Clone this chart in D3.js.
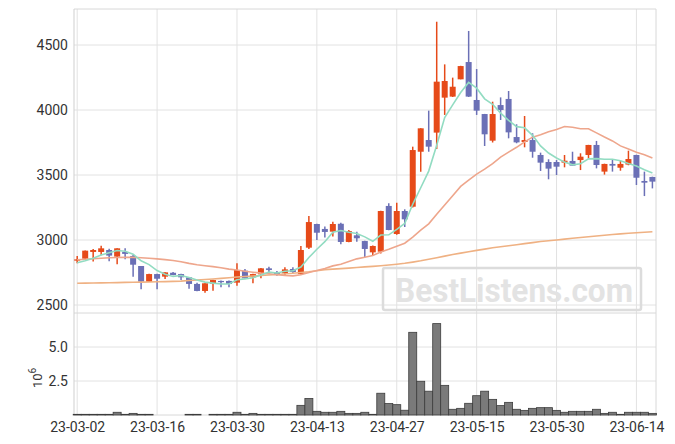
<!DOCTYPE html>
<html><head><meta charset="utf-8">
<script src="https://cdn.jsdelivr.net/npm/d3@7"></script>
<style>body{margin:0;background:#fff;} text{font-family:Roboto,"Noto Sans",sans-serif;}</style>
</head><body><svg id="c" width="675" height="444"></svg>
<script>
const dates = ["23-03-02","23-03-03","23-03-06","23-03-07","23-03-08","23-03-09","23-03-10","23-03-13","23-03-14","23-03-15",
"23-03-16","23-03-17","23-03-20","23-03-21","23-03-22","23-03-23","23-03-24","23-03-27","23-03-28","23-03-29",
"23-03-30","23-03-31","23-04-03","23-04-04","23-04-05","23-04-06","23-04-07","23-04-10","23-04-11","23-04-12",
"23-04-13","23-04-14","23-04-17","23-04-18","23-04-19","23-04-20","23-04-21","23-04-24","23-04-25","23-04-26",
"23-04-27","23-04-28","23-05-02","23-05-03","23-05-04","23-05-08","23-05-09","23-05-10","23-05-11","23-05-12",
"23-05-15","23-05-16","23-05-17","23-05-18","23-05-19","23-05-22","23-05-23","23-05-24","23-05-25","23-05-26",
"23-05-30","23-05-31","23-06-01","23-06-02","23-06-05","23-06-07","23-06-08","23-06-09","23-06-12","23-06-13",
"23-06-14","23-06-15","23-06-16"];
const open  = [2841,2856,2908,2908,2923,2872,2908,2877,2800,2679,2738,2718,2748,2738,2713,2662,2608,2664,2685,2685,
2672,2764,2713,2736,2782,2749,2744,2777,2738,2941,3123,3085,3064,3125,2985,3036,2992,2905,2910,3262,
3046,3223,3256,3679,3769,3826,4095,4103,4236,4369,4077,3969,3764,4038,4085,3792,3754,3769,3654,3600,
3600,3595,3608,3615,3654,3731,3526,3585,3556,3580,3654,3454,3485];
const high  = [2877,2920,2931,2956,2932,2936,2936,2885,2800,2740,2740,2752,2754,2740,2715,2672,2668,2695,2688,2688,
2821,2777,2740,2785,2795,2762,2790,2790,2954,3185,3125,3103,3141,3133,3077,3064,2995,2957,3225,3282,
3287,3236,3718,3860,3995,4679,4351,4249,4340,4608,4315,3970,4064,4097,4146,3890,3954,3821,3672,3621,
3615,3654,3679,3667,3732,3762,3587,3621,3608,3687,3656,3526,3487];
const low   = [2821,2850,2835,2882,2836,2813,2851,2718,2621,2679,2621,2700,2728,2692,2625,2605,2595,2610,2636,2636,
2649,2703,2667,2705,2744,2725,2730,2745,2735,2931,3000,3020,3026,2967,2983,2987,2867,2885,2897,3075,
3040,3100,3250,3525,3679,3700,3962,4100,4236,4100,3962,3723,3750,3923,3782,3744,3713,3633,3531,3467,
3500,3559,3570,3538,3628,3551,3503,3526,3533,3575,3423,3338,3397];
const close = [2851,2918,2923,2936,2880,2936,2893,2810,2680,2738,2702,2751,2731,2713,2662,2608,2667,2692,2678,2662,
2769,2705,2738,2782,2769,2738,2774,2754,2923,3138,3056,3062,3123,2985,3069,3013,2931,2954,3223,3077,
3223,3159,3692,3859,3718,4218,4223,4179,4338,4103,3995,3813,3969,4000,3828,3751,3769,3679,3595,3549,
3564,3610,3572,3641,3731,3577,3585,3572,3585,3623,3479,3441,3449];
const volume = [0.05,0.05,0.05,0.05,0.05,0.2,0.05,0.12,0.05,0.05,0,0,0,0,0.05,0.05,0,0.05,0.05,0.05,
0.2,0.05,0.12,0.05,0.05,0.05,0.05,0.05,0.71,1.22,0.27,0.2,0.2,0.27,0.12,0.12,0.2,0.05,1.6,0.84,
0.76,0.35,6.08,2.48,1.75,6.72,2.18,0.42,0.49,0.86,1.42,1.75,1.15,0.69,0.93,0.42,0.34,0.49,0.54,0.54,
0.34,0.2,0.27,0.27,0.27,0.42,0.12,0.2,0.05,0.2,0.2,0.2,0.12];
const ma5 = [2825,2841,2859,2885,2902,2919,2914,2891,2840,2811,2765,2736,2720,2727,2712,2693,2676,2668,2661,2661,
2694,2701,2710,2731,2753,2746,2760,2763,2792,2865,2929,2987,3060,3073,3059,3050,3024,2990,3038,3040,
3082,3127,3275,3402,3530,3729,3942,4039,4135,4212,4168,4086,4044,3976,3921,3872,3863,3805,3724,3669,
3631,3599,3578,3587,3624,3626,3621,3621,3610,3588,3569,3540,3515];
const ma20 = [2848,2852,2856,2860,2863,2865,2866,2866,2864,2860,2855,2849,2842,2833,2820,2810,2802,2795,2786,2776,
2769,2760,2752,2745,2740,2733,2727,2724,2733,2750,2766,2781,2801,2814,2835,2855,2868,2881,2908,2929,
2952,2975,3022,3076,3124,3198,3270,3341,3412,3460,3507,3545,3587,3638,3676,3713,3755,3791,3809,3833,
3850,3873,3867,3856,3856,3824,3792,3762,3724,3700,3675,3656,3630];
const maLong = [2667,2668,2669,2670,2671,2672,2674,2675,2676,2677,2679,2680,2682,2684,2688,2692,2696,2700,2705,2710,
2715,2719,2723,2727,2731,2735,2739,2744,2750,2756,2764,2772,2776,2780,2784,2789,2793,2797,2802,2808,
2814,2821,2830,2840,2852,2864,2876,2888,2899,2910,2920,2930,2940,2948,2956,2964,2972,2980,2988,2994,
3000,3007,3013,3019,3025,3031,3037,3042,3047,3052,3056,3060,3064];
const tickIdx = [0,10,20,30,40,50,60,70];
const priceTicks = [2500,3000,3500,4000,4500];
const volTicks = [2.5,5.0];

const svg = d3.select('#c');
const L=74, R=656, T=9, MB=313, VB=415;
const x = d3.scaleLinear().domain([-0.4,72.45]).range([L,R]);
const y = d3.scaleLinear().domain([2500,4500]).range([305,45]);
const yv = d3.scaleLinear().domain([0,7.5]).range([VB,MB]);
const gridC = '#e2e2e2';
const UP='#e64a19', DN='#6b70b6';

// grid
const g = svg.append('g');
g.selectAll('.hg').data(priceTicks).enter().append('line')
  .attr('x1',L).attr('x2',R).attr('y1',d=>y(d)).attr('y2',d=>y(d)).attr('stroke',gridC);
g.selectAll('.vg2').data(volTicks).enter().append('line')
  .attr('x1',L).attr('x2',R).attr('y1',d=>yv(d)).attr('y2',d=>yv(d)).attr('stroke',gridC);
g.selectAll('.vg').data(tickIdx).enter().append('line')
  .attr('x1',d=>x(d)).attr('x2',d=>x(d)).attr('y1',T).attr('y2',VB).attr('stroke',gridC);
// borders
[[L,T,R,T],[L,MB,R,MB],[L,VB,R,VB],[R,T,R,VB]].forEach(b=>{
  g.append('line').attr('x1',b[0]).attr('y1',b[1]).attr('x2',b[2]).attr('y2',b[3]).attr('stroke','#d8d8d8');
});
g.append('line').attr('x1',L).attr('y1',T).attr('x2',L).attr('y2',VB).attr('stroke','#cfcfcf');

// volume
svg.append('g').selectAll('rect').data(volume.map((v,i)=>({v,i})).filter(d=>d.v>0)).enter().append('rect')
  .attr('x',d=>x(d.i)-4).attr('width',8)
  .attr('y',d=>yv(d.v)).attr('height',d=>VB-yv(d.v))
  .attr('fill','#7a7a7a').attr('stroke','#3c3c3c').attr('stroke-width',0.8);

// candles
const cd = dates.map((d,i)=>({i,o:open[i],h:high[i],l:low[i],c:close[i]}));
const cg = svg.append('g');
cg.selectAll('line').data(cd).enter().append('line')
  .attr('x1',d=>x(d.i)).attr('x2',d=>x(d.i)).attr('y1',d=>y(d.h)).attr('y2',d=>y(d.l))
  .attr('stroke',d=>d.c>=d.o?UP:DN).attr('stroke-width',1.5);
cg.selectAll('rect').data(cd).enter().append('rect')
  .attr('x',d=>x(d.i)-3).attr('width',6)
  .attr('y',d=>y(Math.max(d.o,d.c)))
  .attr('height',d=>Math.max(1.2,Math.abs(y(d.o)-y(d.c))))
  .attr('fill',d=>d.c>=d.o?UP:DN);

// moving averages
const line = d3.line().x((d,i)=>x(i)).y(d=>y(d));
svg.append('path').datum(maLong).attr('d',line).attr('fill','none').attr('stroke','#efb183').attr('stroke-width',1.6);
svg.append('path').datum(ma20).attr('d',line).attr('fill','none').attr('stroke','#eea68c').attr('stroke-width',1.6);
svg.append('path').datum(ma5).attr('d',line).attr('fill','none').attr('stroke','#92dcc2').attr('stroke-width',1.6);

// axes
const styleAxis = s=>{ s.select('.domain').remove(); s.selectAll('text').attr('fill','#333').style('font-size','14px'); };
svg.append('g').attr('transform',`translate(${L},0)`)
  .call(d3.axisLeft(y).tickValues(priceTicks).tickFormat(d3.format('d')).tickSize(0).tickPadding(6)).call(styleAxis);
svg.append('g').attr('transform',`translate(${L},0)`)
  .call(d3.axisLeft(yv).tickValues(volTicks).tickFormat(d3.format('.1f')).tickSize(0).tickPadding(6)).call(styleAxis);
svg.append('g').attr('transform',`translate(0,${VB})`)
  .call(d3.axisBottom(x).tickValues(tickIdx).tickFormat(i=>dates[i]).tickSize(0).tickPadding(7)).call(styleAxis);

// 10^6 label
const vl = svg.append('text').attr('transform','translate(42,388) rotate(-90)')
  .attr('fill','#333').style('font-size','13px').text('10');
vl.append('tspan').attr('dy',-6).style('font-size','10px').text('6');

// watermark
svg.append('rect').attr('x',383).attr('y',268).attr('width',258).attr('height',42).attr('rx',2)
  .attr('fill','none').attr('stroke','#dcdcdc').attr('stroke-width',2.5);
svg.append('text').attr('x',395).attr('y',302).attr('textLength',238).attr('lengthAdjust','spacingAndGlyphs')
  .style('font-size','34px').style('font-weight','700').attr('fill','#e3e3e3').text('BestListens.com');
</script></body></html>
